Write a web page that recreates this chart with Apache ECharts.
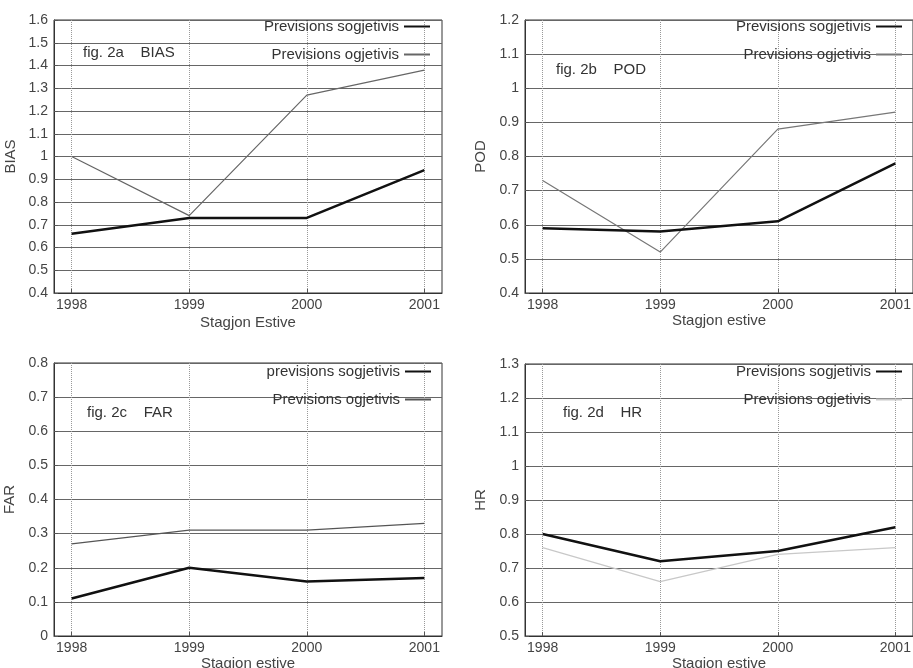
<!DOCTYPE html>
<html>
<head>
<meta charset="utf-8">
<script src="https://cdn.jsdelivr.net/npm/echarts@6/dist/echarts.min.js"></script>
<style>
html, body { margin: 0; padding: 0; background: #fff; }
#chart { width: 913px; height: 668px; }
</style>
</head>
<body>
<div id="chart"></div>
<script>
var years = [1998, 1999, 2000, 2001];

var biasSogj = [0.66, 0.73, 0.73, 0.94];
var biasOgj = [1.00, 0.74, 1.27, 1.38];
var podSogj = [0.59, 0.58, 0.61, 0.78];
var podOgj = [0.73, 0.52, 0.88, 0.93];
var farSogj = [0.11, 0.20, 0.16, 0.17];
var farOgj = [0.27, 0.31, 0.31, 0.33];
var hrSogj = [0.80, 0.72, 0.75, 0.82];
var hrOgj = [0.76, 0.66, 0.74, 0.76];

var panels = [
    { key: 'a', yName: 'BIAS', xName: 'Stagjon Estive', ymin: 0.4, ymax: 1.6, sogj: biasSogj, ogj: biasOgj,
      note: 'fig. 2a    BIAS', leg1: 'Previsions sogjetivis', leg2: 'Previsions ogjetivis' },
    { key: 'b', yName: 'POD', xName: 'Stagjon estive', ymin: 0.4, ymax: 1.2, sogj: podSogj, ogj: podOgj,
      note: 'fig. 2b    POD', leg1: 'Previsions sogjetivis', leg2: 'Previsions ogjetivis' },
    { key: 'c', yName: 'FAR', xName: 'Stagion estive', ymin: 0, ymax: 0.8, sogj: farSogj, ogj: farOgj,
      note: 'fig. 2c    FAR', leg1: 'previsions sogjetivis', leg2: 'Previsions ogjetivis' },
    { key: 'd', yName: 'HR', xName: 'Stagjon estive', ymin: 0.5, ymax: 1.3, sogj: hrSogj, ogj: hrOgj,
      note: 'fig. 2d    HR', leg1: 'Previsions sogjetivis', leg2: 'Previsions ogjetivis' }
];

// layout of each panel (pixels)
var boxes = [
    { left: 54, top: 20, width: 388, height: 273, yGap: 36, xGap: 22, legRight: 482, legTop: 19, noteX: 83, noteY: 45, ogjColor: '#666' },
    { left: 525, top: 20, width: 388, height: 273, yGap: 37, xGap: 17, legRight: 10, legTop: 19, noteX: 556, noteY: 62, ogjColor: '#777' },
    { left: 54, top: 363, width: 388, height: 273, yGap: 37, xGap: 19, legRight: 481, legTop: 364, noteX: 87, noteY: 405, ogjColor: '#555' },
    { left: 525, top: 364, width: 388, height: 272, yGap: 37, xGap: 19, legRight: 10, legTop: 364, noteX: 563, noteY: 405, ogjColor: '#c8c8c8' }
];

var labelNames = {};
var font = 'Liberation Sans, Arial, Helvetica, sans-serif';

function pairs(vals) {
    return years.map(function (y, i) { return [y, vals[i]]; });
}

var option = {
    animation: false,
    backgroundColor: '#fff',
    textStyle: { fontFamily: font },
    title: [], grid: [], xAxis: [], yAxis: [], legend: [], series: []
};

panels.forEach(function (p, i) {
    var b = boxes[i];
    labelNames[p.key + '1'] = p.leg1;
    labelNames[p.key + '2'] = p.leg2;

    option.grid.push({
        left: b.left, top: b.top, width: b.width, height: b.height,
        show: true, borderColor: '#333', borderWidth: 1,
        outerBoundsMode: 'none', containLabel: false
    });
    option.xAxis.push({
        type: 'value', gridIndex: i, min: 1997.85, max: 2001.15,
        name: p.xName, nameLocation: 'middle', nameGap: b.xGap,
        nameTextStyle: { fontSize: 15, color: '#444', fontFamily: font, verticalAlign: 'top' },
        axisLine: { show: true, lineStyle: { color: '#333' } },
        axisTick: { show: true, inside: true, length: 4, customValues: years, lineStyle: { color: '#555' } },
        axisLabel: {
            customValues: years, fontSize: 14, color: '#444', margin: 5, fontFamily: font,
            formatter: function (v) { return String(v); }
        },
        splitLine: { show: true, lineStyle: { color: '#999', type: 'dotted', width: 1 } }
    });
    option.yAxis.push({
        type: 'value', gridIndex: i, min: p.ymin, max: p.ymax, interval: 0.1,
        name: p.yName, nameLocation: 'middle', nameGap: b.yGap, nameRotate: 90,
        nameTextStyle: { fontSize: 15, color: '#444', fontFamily: font },
        axisLine: { show: true, lineStyle: { color: '#333' } },
        axisTick: { show: true, inside: true, length: 4, lineStyle: { color: '#555' } },
        axisLabel: { fontSize: 14, color: '#444', margin: 6, fontFamily: font },
        splitLine: { show: true, lineStyle: { color: '#666', width: 1 } }
    });
    option.legend.push({
        orient: 'vertical', align: 'right', right: b.legRight, top: b.legTop,
        padding: 0, itemGap: 13, itemWidth: 26, itemHeight: 14,
        data: [p.key + '1', p.key + '2'],
        itemStyle: { opacity: 0 },
        formatter: function (name) { return labelNames[name]; },
        textStyle: { fontSize: 15, color: '#333', fontFamily: font }
    });
    option.title.push({
        text: p.note, left: b.noteX, top: b.noteY, padding: 0,
        textStyle: { fontSize: 15, fontWeight: 'normal', color: '#333', fontFamily: font }
    });
    option.series.push({
        name: p.key + '1', type: 'line', xAxisIndex: i, yAxisIndex: i,
        data: pairs(p.sogj), symbol: 'none', z: 4,
        itemStyle: { color: '#111' },
        lineStyle: { color: '#111', width: 2.5 }
    });
    option.series.push({
        name: p.key + '2', type: 'line', xAxisIndex: i, yAxisIndex: i,
        data: pairs(p.ogj), symbol: 'none', z: 3,
        itemStyle: { color: b.ogjColor },
        lineStyle: { color: b.ogjColor, width: 1.2 }
    });
});

var myChart = echarts.init(document.getElementById('chart'));
myChart.setOption(option);
</script>
</body>
</html>
